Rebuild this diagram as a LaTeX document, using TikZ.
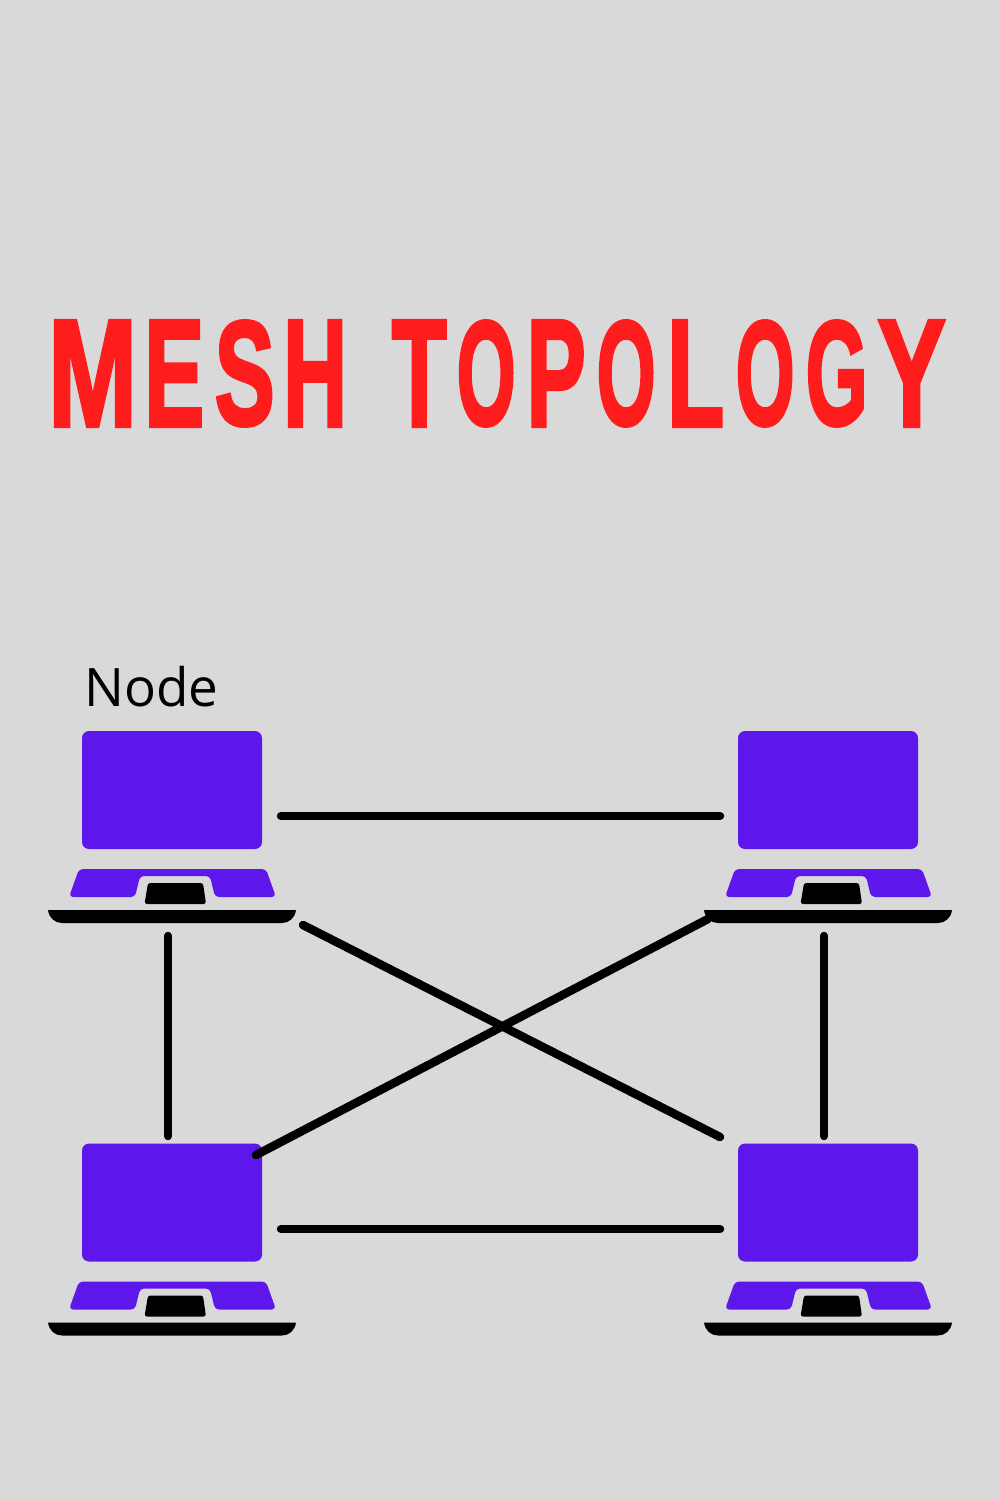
\documentclass[tikz,border=0pt]{standalone}
\usepackage{graphicx}
\usepackage{fontspec}
\setmainfont{Open Sans}
\newfontfamily\titlefont[FakeBold=2.6]{Liberation Sans Bold}
\definecolor{bgc}{HTML}{D9D9D9}
\definecolor{purp}{HTML}{5E17EB}
\definecolor{titlered}{HTML}{FF1C1C}
\makeatletter
\def\tdata#1#2#3{\expandafter\def\csname tbox@#1\endcsname{#2}\expandafter\def\csname tadv@#1\endcsname{#3}}
\tdata{M}{89}{93}\tdata{E}{60}{70}\tdata{S}{60}{71}\tdata{H}{64}{70}\tdata{T}{55}{64}
\tdata{O}{59}{70}\tdata{P}{59}{70}\tdata{L}{57}{69}\tdata{G}{62}{73}\tdata{Y}{68}{77}
\newcommand\fitword[1]{\@tfor\@tlet:=#1\do{\makebox[\csname tadv@\@tlet\endcsname pt][c]{\raisebox{\depth}{\resizebox*{\csname tbox@\@tlet\endcsname pt}{105pt}{\titlefont\@tlet}}}}}
\makeatother
\tikzset{
  x=1pt,y=-1pt,
  link/.style={line width=8.5pt,line cap=round,black},
  screen/.style={fill=purp,rounded corners=7pt},
  keyb/.style={fill=purp,rounded corners=4pt},
  pad/.style={fill=black,rounded corners=2.5pt},
  base/.style={fill=black},
  laptop/.pic={
    \path[screen] (82,731) rectangle (262,849);
    \path[keyb] (79,869) -- (69,897) -- (135,897) -- (140,876) -- (210,876) -- (215,897) -- (276,897) -- (266,869) -- cycle;
    \path[pad] (148,883) -- (144.5,904) -- (206,904) -- (203,883) -- cycle;
    \path[base] (48,910) -- (296,910) .. controls (295,918) and (289,923) .. (282,923) -- (62,923) .. controls (55,923) and (49,918) .. (48,910) -- cycle;
    \coordinate (-right) at (281,816);
    \coordinate (-foot) at (168,936);
    \coordinate (-foutr) at (303,925);
  }
}
\begin{document}
\begin{tikzpicture}
\useasboundingbox (0,0) rectangle (1000,1500);
\fill[bgc] (0,0) rectangle (1000,1500);
\node[inner sep=0pt,text=titlered,anchor=base west] (title) at (46,426) {\fitword{MESH}\hspace{37pt}\fitword{TOPOLOGY}};
\node[inner sep=0pt,anchor=base west,font=\fontsize{53}{60}\selectfont] (lbl) at (84,706) {Node};
\pic (tl) at (0,0) {laptop};
\pic (tr) at (656,0) {laptop};
\pic (bl) at (0,412.5) {laptop};
\pic (br) at (656,412.5) {laptop};
\coordinate (trL) at (720,816);
\coordinate (blTop) at (168,1136);
\coordinate (brTop) at (824,1136);
\coordinate (blR) at (281,1229);
\coordinate (brL) at (720,1229);
\coordinate (brCorner) at (720,1137);
\coordinate (blCorner) at (256,1155);
\coordinate (trCorner) at (708,919);
\draw[link] (tl-right) -- (trL);
\draw[link] (tl-foot) -- (blTop);
\draw[link] (tr-foot) -- (brTop);
\draw[link] (blR) -- (brL);
\draw[link] (tl-foutr) -- (brCorner);
\draw[link] (blCorner) -- (trCorner);
\end{tikzpicture}
\end{document}
